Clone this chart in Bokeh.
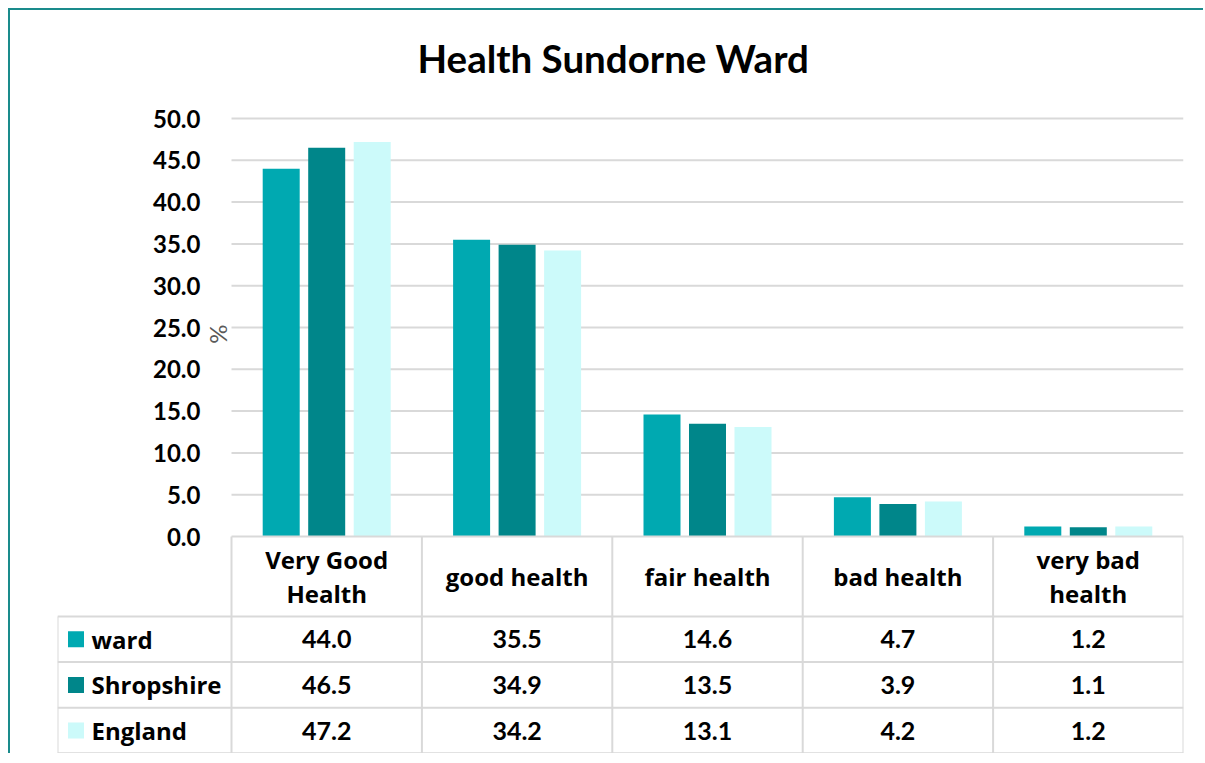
import math
from bokeh.plotting import figure
from bokeh.models import Range1d, FixedTicker, PrintfTickFormatter
from bokeh.core.properties import value
from bokeh.embed import file_html
from bokeh.resources import INLINE

# ---------------- data ----------------
categories = ["Very Good\nHealth", "good health", "fair health", "bad health", "very bad\nhealth"]
series_names = ["ward", "Shropshire", "England"]
ward = [44.0, 35.5, 14.6, 4.7, 1.2]
shropshire = [46.5, 34.9, 13.5, 3.9, 1.1]
england = [47.2, 34.2, 13.1, 4.2, 1.2]
y_ticks = [0, 5, 10, 15, 20, 25, 30, 35, 40, 45, 50]
title_text = "Health Sundorne Ward"
y_label = "%"

# ---------------- style / layout ----------------
colors = ["#00A9B1", "#00868A", "#CCFAFA"]
FONT = "Lato"
TFONT = "Open Sans"
GRID = "#D9D9D9"
W, H = 1195, 745
FRAME_L, FRAME_R, FRAME_T, FRAME_B = 47, 1173, 90, 745   # canvas px
X0_PX = 221            # canvas x of category axis start
ZERO_PX = 526          # canvas y of value 0
PX_PER_UNIT = 8.36
COL_W = (FRAME_R - X0_PX) / len(categories)
X_START = -(X0_PX - FRAME_L) / COL_W

HEADER_H = 80
ROW_H = 45.6
BAR_W = 37 / COL_W
BAR_STEP = 45.5 / COL_W

p = figure(width=W, height=H, output_backend="svg", toolbar_location=None,
           x_range=Range1d(X_START, len(categories)),
           y_range=Range1d(-(FRAME_B - ZERO_PX) / PX_PER_UNIT, (ZERO_PX - FRAME_T) / PX_PER_UNIT),
           min_border_left=FRAME_L, min_border_right=W - FRAME_R,
           min_border_top=FRAME_T, min_border_bottom=0)
p.margin = (8, 0, 0, 8)
p.extra_y_ranges = {"tbl": Range1d(-(FRAME_B - ZERO_PX), ZERO_PX - FRAME_T)}
p.styles = {"border-left": "2px solid #1A8B8C", "border-top": "2px solid #1A8B8C"}
p.outline_line_color = None
p.background_fill_color = "white"
p.border_fill_color = "white"
p.xaxis.visible = False
p.xgrid.visible = False
p.ygrid.visible = False

# title
p.title.text = title_text
p.title.align = "left"
p.title.offset = 360
p.title.text_font = FONT
p.title.text_font_size = "38.5px"
p.title.text_font_style = "bold"
p.title.text_color = "black"
p.title.standoff = 39

# y axis
ya = p.yaxis[0]
ya.ticker = FixedTicker(ticks=y_ticks)
ya.formatter = PrintfTickFormatter(format="%.1f")
ya.major_label_standoff = -(X0_PX - FRAME_L - 31)
ya.major_tick_out = 0
ya.major_tick_in = 0
ya.minor_tick_out = 0
ya.minor_tick_in = 0
ya.axis_line_color = None
ya.major_label_text_font = FONT
ya.major_label_text_font_style = "bold"
ya.major_label_text_font_size = "24px"
ya.major_label_text_color = "black"

# gridlines (above zero, across the category area)
gy = [t for t in y_ticks if t > 0]
p.segment(x0=[0] * len(gy), x1=[len(categories)] * len(gy), y0=gy, y1=gy,
          line_color=GRID, line_width=2)

# y label
p.text(x=[0], y=[24.2], text=[y_label], angle=math.pi / 2, x_offset=-14,
       text_align="center", text_baseline="middle", text_font=value(FONT),
       text_font_size="24px", text_color="#595959")

# bars
series = [ward, shropshire, england]
for k, (name, vals) in enumerate(zip(series_names, series)):
    xs = [i + 0.5 + (k - 1) * BAR_STEP for i in range(len(categories))]
    p.vbar(x=xs, top=vals, bottom=0, width=BAR_W, fill_color=colors[k], line_color=None)

# ---------------- data table ----------------
n = len(categories)
row_lines = [-HEADER_H - ROW_H * r for r in range(len(series) + 1)]
hx0 = [0] + [X_START] * len(row_lines)
hx1 = [n] * (len(row_lines) + 1)
hy = [0] + row_lines
p.segment(x0=hx0, x1=hx1, y0=hy, y1=hy, line_color=GRID, line_width=2, y_range_name="tbl")
bottom = row_lines[-1]
vx = [X_START] + list(range(n + 1))
vy0 = [-HEADER_H] + [0] * (n + 1)
p.segment(x0=vx, x1=vx, y0=vy0, y1=[bottom] * len(vx), line_color=GRID, line_width=2,
          y_range_name="tbl")

# header texts
p.text(x=[i + 0.5 for i in range(n)], y=[-HEADER_H / 2] * n, text=categories,
       text_align="center", text_baseline="middle", text_font=value(TFONT),
       text_font_style="bold", text_font_size="24px", text_color="black",
       text_line_height=1.05, y_range_name="tbl")

# rows
for k, (name, vals) in enumerate(zip(series_names, series)):
    yc = -HEADER_H - ROW_H * (k + 0.5)
    p.scatter(x=[X_START + 18.5 / COL_W], y=[yc], marker="square", size=16,
              fill_color=colors[k], line_color=None, y_range_name="tbl")
    p.text(x=[X_START + 34 / COL_W], y=[yc], text=[name], text_align="left",
           text_baseline="middle", text_font=value(TFONT), text_font_style="bold",
           text_font_size="24px", text_color="black", y_range_name="tbl")
    p.text(x=[i + 0.5 for i in range(n)], y=[yc] * n, text=["%.1f" % v for v in vals],
           text_align="center", text_baseline="middle", text_font=value(FONT),
           text_font_style="bold", text_font_size="25px", text_color="black",
           y_range_name="tbl")

open("out.html", "w").write(file_html(p, INLINE))
